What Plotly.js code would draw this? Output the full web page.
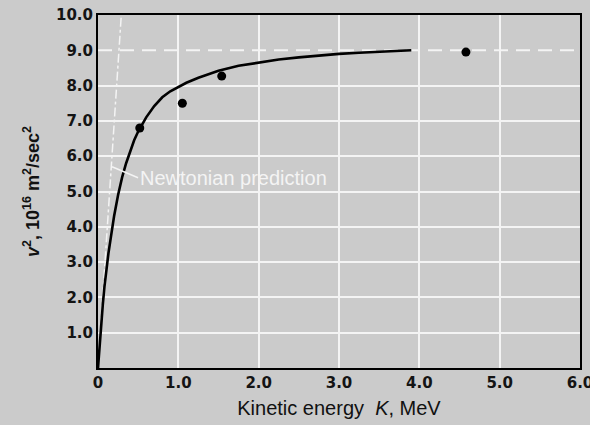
<!DOCTYPE html>
<html>
<head>
<meta charset="utf-8">
<script src="https://cdn.plot.ly/plotly-3.0.1.min.js"></script>
<style>html,body{margin:0;padding:0;background:#cbcbcb;}#chart{width:590px;height:425px;}</style>
</head>
<body>
<div id="chart"></div>
<script>
// Relativistic curve (K in MeV, v^2 in 10^16 m^2/s^2)
const curveK  = [0, 0.01, 0.02, 0.04, 0.06, 0.08, 0.1, 0.13, 0.16, 0.2, 0.25, 0.3, 0.35, 0.4, 0.45, 0.5, 0.6, 0.7, 0.8, 0.9, 1.0, 1.1, 1.25, 1.4, 1.5, 1.75, 2.0, 2.25, 2.5, 2.75, 3.0, 3.25, 3.5, 3.75, 3.9];
const curveV2 = [0, 0.35, 0.65, 1.3, 1.8, 2.3, 2.7, 3.25, 3.7, 4.3, 4.9, 5.4, 5.8, 6.15, 6.45, 6.7, 7.1, 7.42, 7.67, 7.84, 7.97, 8.08, 8.22, 8.35, 8.42, 8.56, 8.66, 8.74, 8.80, 8.86, 8.90, 8.93, 8.96, 8.98, 9.0];
// Measured points
const dataK  = [0.52, 1.05, 1.54, 4.58];
const dataV2 = [6.8, 7.5, 8.27, 8.95];
// Newtonian prediction line
const newtK  = [0, 0.29];
const newtV2 = [0, 10];
// c^2 asymptote
const limitK  = [0, 6];
const limitV2 = [9, 9];
// ticks
const xTickVals = [0, 1, 2, 3, 4, 5, 6];
const xTickText = ['0', '1.0', '2.0', '3.0', '4.0', '5.0', '6.0'];
const yTickVals = [1, 2, 3, 4, 5, 6, 7, 8, 9, 10];
const yTickText = ['1.0', '2.0', '3.0', '4.0', '5.0', '6.0', '7.0', '8.0', '9.0', '10.0'];
const yGridVals = [1, 2, 3, 4, 5, 6, 7, 8];
const xGridVals = [1, 2, 3, 4, 5];

const bg = '#cbcbcb';
const traces = [
  {x: [0], y: [0], xaxis: 'x2', yaxis: 'y2', mode: 'markers', marker: {opacity: 0}, hoverinfo: 'skip'},
  {x: limitK, y: limitV2, mode: 'lines', line: {color: '#f4f4f4', width: 2, dash: '14px,8px'}, hoverinfo: 'skip'},
  {x: newtK, y: newtV2, mode: 'lines', line: {color: '#f4f4f4', width: 1.5, dash: 'dashdot'}, hoverinfo: 'skip'},
  {x: curveK, y: curveV2, mode: 'lines', line: {color: '#000', width: 2.6}, hoverinfo: 'skip'},
  {x: dataK, y: dataV2, mode: 'markers', marker: {color: '#000', size: 9}, hoverinfo: 'skip'}
];

const tickFont = {family: 'DejaVu Sans', size: 15, color: '#141414', weight: 'bold'};
const layout = {
  width: 590, height: 425,
  margin: {l: 98, r: 10, t: 15, b: 57},
  paper_bgcolor: bg, plot_bgcolor: bg,
  showlegend: false,
  xaxis: {
    range: [0, 6], tickvals: xTickVals, ticktext: xTickText,
    showgrid: false, zeroline: false, ticklabeloverflow: 'allow',
    showline: true, mirror: true, linecolor: '#000', linewidth: 2,
    ticks: '', tickfont: tickFont,
    title: {text: 'Kinetic energy  <i>K</i>, MeV', font: {family: 'Liberation Sans', size: 20, color: '#111'}, standoff: 10}
  },
  xaxis2: {
    overlaying: 'x', range: [0, 6], tickvals: xGridVals, showticklabels: false,
    showgrid: true, gridcolor: '#f4f4f4', gridwidth: 2, zeroline: false, ticks: ''
  },
  yaxis: {
    range: [0, 10], tickvals: yTickVals, ticktext: yTickText,
    showgrid: false, zeroline: false, ticklabeloverflow: 'allow',
    showline: true, mirror: true, linecolor: '#000', linewidth: 2,
    ticks: '', tickfont: tickFont,
    title: {text: '<i>v</i><sup>2</sup>, 10<sup>16</sup> m<sup>2</sup>/sec<sup>2</sup>', font: {family: 'Liberation Sans', size: 18, color: '#111', weight: 'bold'}, standoff: 12}
  },
  yaxis2: {
    overlaying: 'y', range: [0, 10], tickvals: yGridVals, showticklabels: false,
    showgrid: true, gridcolor: '#f4f4f4', gridwidth: 2, zeroline: false, ticks: ''
  },
  annotations: [{
    x: 0.175, y: 5.7, xref: 'x', yref: 'y',
    text: 'Newtonian prediction', showarrow: true, arrowhead: 0, arrowwidth: 1.5, arrowcolor: '#f4f4f4',
    ax: 26, ay: 11, xanchor: 'left', yanchor: 'middle',
    font: {family: 'Liberation Sans', size: 20, color: '#f4f4f4'}
  }]
};
Plotly.newPlot('chart', traces, layout, {staticPlot: true});
</script>
</body>
</html>
